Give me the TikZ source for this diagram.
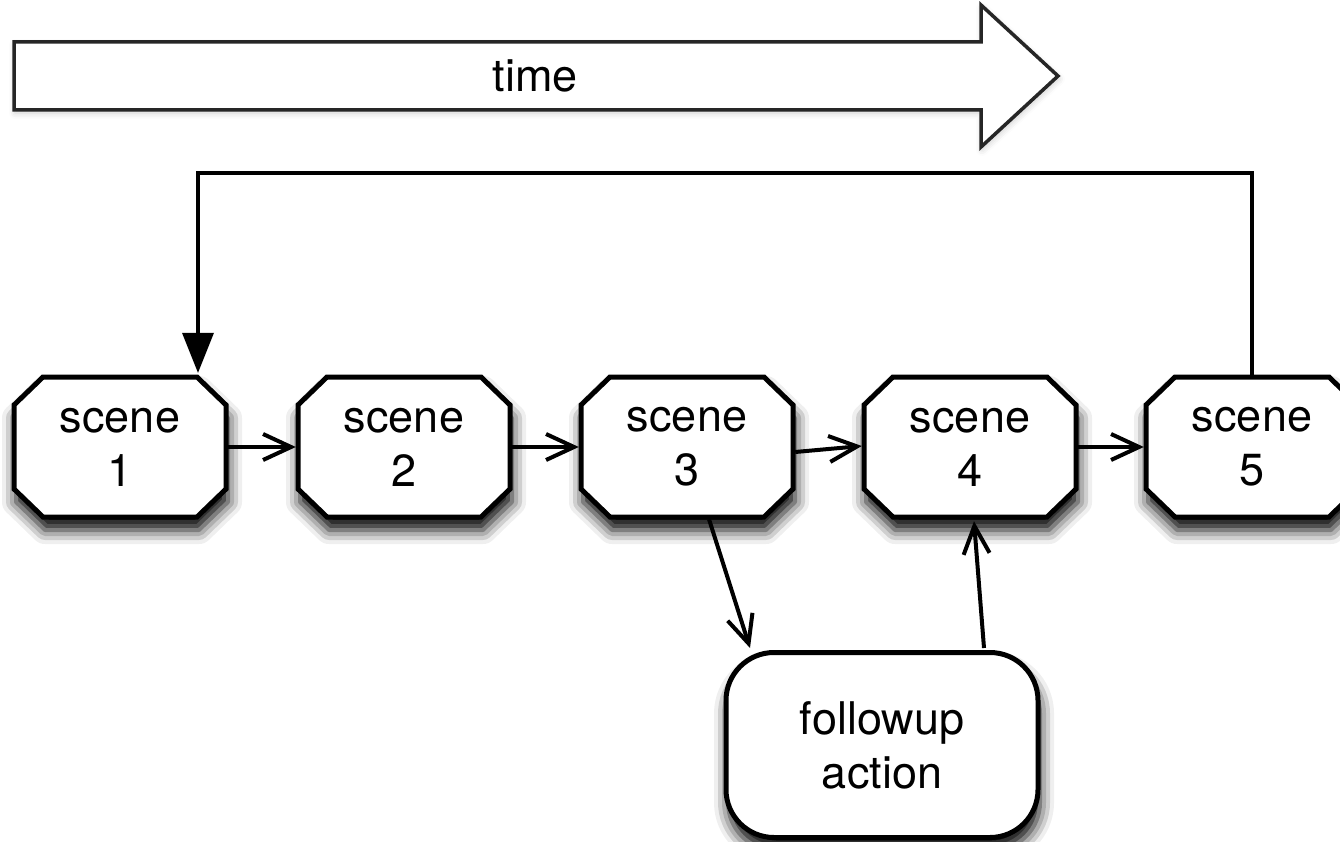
\documentclass[tikz,border=0pt]{standalone}
\usepackage{fontspec}
\setmainfont{TeX Gyre Heros}
\usetikzlibrary{arrows.meta,shadows.blur,calc}
\newcommand\scenefill[1]{%
  \filldraw[sceneline] (#1-106,405) -- (#1-77,377) -- (#1+77,377) -- (#1+106,405)
    -- (#1+106,489) -- (#1+77,517) -- (#1-77,517) -- (#1-106,489) -- cycle;}
\begin{document}
\begin{tikzpicture}[x=1pt,y=-1pt,
  sceneline/.style={draw=black, line width=5pt, fill=white, line join=miter,
    blur shadow={shadow xshift=2pt, shadow yshift=-13pt, shadow blur radius=14pt, shadow opacity=100}},
  scenetext/.style={rectangle, minimum width=212pt, minimum height=140pt,
    inner sep=0pt, align=center, font=\fontsize{45}{54}\selectfont},
  actionbox/.style={rectangle, rounded corners=48pt, draw=black, line width=5pt, fill=white,
    minimum width=312pt, minimum height=185pt, inner sep=0pt, align=center,
    font=\fontsize{45}{54}\selectfont,
    blur shadow={shadow xshift=2pt, shadow yshift=-13pt, shadow blur radius=14pt, shadow opacity=100}},
  flow/.style={line width=4pt, -{Straight Barb[length=28pt,width=26pt,line width=4pt]}},
  feedback/.style={line width=4.5pt, draw=black, -{Triangle[length=40pt,width=32pt,fill=black,line width=0pt]}}
]
\useasboundingbox (0,0) rectangle (1340,842);
% time arrow
\draw[line width=3.5pt, draw=black!85, fill=white, line join=miter,
  blur shadow={shadow xshift=1pt, shadow yshift=-3pt, shadow blur radius=6pt, shadow opacity=20}]
  (14,42) -- (981,42) -- (981,5) -- (1058,76) -- (981,147) -- (981,110) -- (14,110) -- cycle;
\node[font=\fontsize{45}{54}\selectfont] (time) at (535,76) {time};
% scenes
\scenefill{120}\scenefill{404}\scenefill{687}\scenefill{970}\scenefill{1252}
\node[scenetext] (s1) at (120,447) {scene\\1};
\node[scenetext] (s2) at (404,447) {scene\\2};
\node[scenetext] (s3) at (687,447) {scene\\3};
\node[scenetext] (s4) at (970,447) {scene\\4};
\node[scenetext] (s5) at (1252,447) {scene\\5};
\node[actionbox] (f) at (882,745) {followup\\action};
% connectors
\draw[flow] ([xshift=2pt]s1.east) -- ([xshift=-2pt]s2.west);
\draw[flow] ([xshift=2pt]s2.east) -- ([xshift=-2pt]s3.west);
\draw[flow] ([xshift=2pt,yshift=-5pt]s3.east) -- ([xshift=-2pt,yshift=1pt]s4.west);
\draw[flow] ([xshift=2pt]s4.east) -- ([xshift=-2pt]s5.west);
\draw[flow] ([xshift=22pt,yshift=-2pt]s3.south) -- ([xshift=-132pt,yshift=2pt]f.north);
\draw[flow] ([xshift=102pt,yshift=2pt]f.north) -- ([xshift=4pt,yshift=-4pt]s4.south);
\coordinate (top) at (198,173);
\draw[feedback, line join=miter] (s5.north) |- (top) -- ([yshift=4pt]top |- s1.north);
\end{tikzpicture}
\end{document}
